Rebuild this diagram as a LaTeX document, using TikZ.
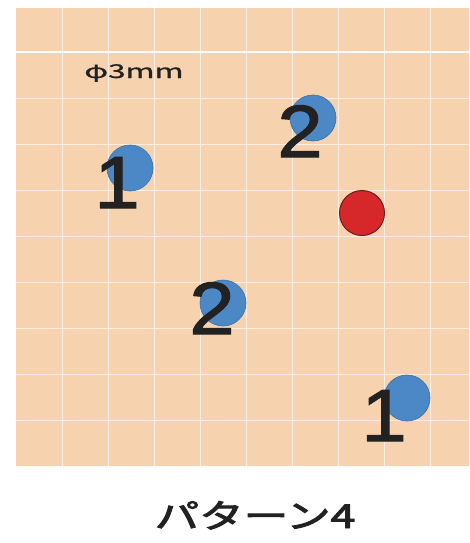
\documentclass[tikz,border=0pt]{standalone}
\usepackage{fontspec}
\setmainfont{Noto Sans CJK JP}
\newfontfamily\numfont{Liberation Sans}[FakeBold=1.5]
\newfontfamily\titlefont{Noto Sans CJK JP}[FakeBold=2.6]
\newfontfamily\notefont{Noto Sans CJK JP}[FakeBold=0.8]
\usetikzlibrary{positioning}
\definecolor{mypeach}{HTML}{F6D3AE}
\definecolor{mygrid}{HTML}{FCEEE2}
\definecolor{myblue}{HTML}{4C87C6}
\definecolor{myblueline}{HTML}{3B6FA6}
\definecolor{myred}{HTML}{D6282A}
\definecolor{myredline}{HTML}{6E1A1A}
\definecolor{myink}{HTML}{222222}

\begin{document}
\begin{tikzpicture}[
    x=1pt, y=-1pt,
    gridline/.style={draw=mygrid, line width=0.9pt},
    dot/.style={
      circle, fill=myblue, draw=myblueline, line width=0.6pt,
      minimum size=46pt, inner sep=0pt
    },
    target/.style={
      circle, fill=myred, draw=myredline, line width=1pt,
      minimum size=45pt, inner sep=0pt
    },
    num/.style={
      anchor=base, inner sep=0pt, text=myink, xscale=1.1,
      font=\numfont\fontsize{74}{74}\selectfont
    }
  ]
  \useasboundingbox (0,0) rectangle (469,543);
  % Fond quadrille
  \fill[mypeach] (16,8) rectangle (469,466);
  \foreach \gx in {62,108,...,430}
    \draw[gridline] (\gx,8) -- (\gx,466);
  \foreach \gy in {98,144,...,420}
    \draw[gridline] (16,\gy) -- (469,\gy);
  \draw[gridline, draw=white, line width=1.6pt] (16,52) -- (469,52);
  % Diametre
  \node[anchor=base west, inner sep=0pt, text=myink, xscale=1.65,
    font=\notefont\fontsize{19}{19}\selectfont] (size) at (84,78) {φ3mm};
  % Points bleus
  \node[dot] (pA) at (313,118) {};
  \node[dot] (pB) at (130,168) {};
  \node[dot] (pC) at (223,303) {};
  \node[dot] (pD) at (407,398) {};
  % Point rouge
  \node[target] (red) at (362,213) {};
  % Numeros
  \node[num] (nA) at (300,157) {2};
  \node[num] (nB) at (117,208) {1};
  \node[num] (nC) at (212,334) {2};
  \node[num] (nD) at (384,441) {1};
  % Titre
  \node[anchor=base, inner sep=0pt, text=myink, xscale=1.35,
    font=\titlefont\fontsize{33}{33}\selectfont] (title) at (255,528) {パターン4};
\end{tikzpicture}
\end{document}
